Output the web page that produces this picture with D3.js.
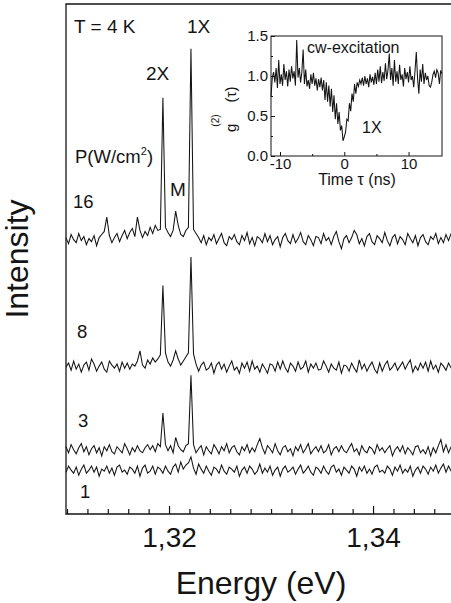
<!DOCTYPE html>
<html><head><meta charset="utf-8">
<script src="https://cdn.jsdelivr.net/npm/d3@7"></script>
<style>
html,body{margin:0;padding:0;background:#fff;}
svg{display:block;font-family:"Liberation Sans",Arial,Helvetica,sans-serif;}
</style></head><body>
<svg id="chart" width="451" height="603"></svg>
<script>
// Photoluminescence spectra at several excitation densities (stacked with offsets)
const energyStart = 1.3099;   // eV, first sample
const energyStep = 0.00025;   // eV per sample
const powerLabels = ["16", "8", "3", "1"];
const spectrumOffsets = [269, 144, 63, 43];

const spec16 = [
  2,-4,5,0,-3,6,-1,3,-5,1,
  -2,4,-6,2,5,8,22,4,-3,2,
  6,-2,4,9,1,7,11,3,22,9,
  2,8,4,12,6,14,9,10,139,12,
  7,3,9,28,14,5,3,9,12,187,
  10,6,2,-3,4,-5,2,-1,5,-4,
  1,6,-3,-6,3,0,5,-2,-5,4,
  -1,7,-4,2,-6,3,1,-3,6,-2,
  4,-5,0,3,-7,2,6,-1,-4,5,
  -3,1,7,-2,-5,4,0,-6,3,2,
  -4,6,-1,2,-5,3,8,-2,-9,1,
  4,-3,2,9,5,-4,1,-6,3,6,
  -2,-5,4,1,-3,7,-1,-6,2,5,
  -4,3,0,-5,6,1,-3,4,-6,2,
  5,-2,-5,3,0,6,-4,2,-3,5,
  -1,6
];
const spec8 = [
  0,4,-3,6,-2,3,-5,2,5,-3,
  8,3,-4,1,5,-2,-5,6,2,-1,
  3,-4,5,-1,4,-2,3,1,6,16,
  2,-1,7,3,9,5,8,12,80,14,
  5,1,7,16,8,2,6,10,14,108,
  13,3,-4,2,5,-3,-1,4,-6,2,
  5,-2,3,-5,1,6,-3,0,-6,4,
  -1,5,-4,6,-2,1,-5,3,-1,-6,
  3,2,-4,5,-2,6,-1,-5,4,1,
  -4,5,-2,0,6,-5,3,-1,4,-3,
  -2,6,1,-5,3,-1,-3,5,-6,2,
  1,-4,4,-1,-5,7,-2,3,-4,1,
  5,-2,-6,4,-4,2,6,-3,0,4,
  -3,1,5,-2,3,7,-5,1,-3,4,
  -1,5,-4,6,-2,2,-5,4,1,-3,
  4,-1
];
const spec3 = [
  3,-3,5,0,-4,2,6,-2,3,-5,
  1,4,-3,2,-6,3,-1,5,-2,-4,
  3,0,-3,6,1,-5,2,-2,4,-1,
  -3,2,5,0,4,-2,6,3,36,5,
  -1,4,-3,12,4,0,-2,4,6,73,
  5,-3,1,4,-5,3,-1,-4,5,1,
  -4,3,-1,6,-3,2,4,-2,-5,3,
  -1,5,-3,2,-2,5,11,2,-4,4,
  1,-3,6,-1,-5,2,4,-2,1,-6,
  3,-1,5,-3,1,6,-4,0,3,-2,
  4,-3,-1,5,-5,1,3,-2,4,-1,
  -3,2,6,-2,1,-5,4,-1,-3,3,
  1,-4,5,-1,2,-3,1,4,-6,0,
  3,-2,4,-4,2,-1,-5,3,4,-3,
  0,-4,3,-6,2,-3,4,10,-2,5,
  -3,3
];
const spec1 = [
  -2,4,0,-3,3,-5,1,5,-3,0,
  4,-2,3,-6,1,-1,4,-3,2,-5,
  3,5,-2,0,-4,3,1,-3,4,-6,
  2,5,-3,-1,4,-4,3,1,-3,4,
  -1,-4,3,6,-2,8,1,5,7,13,
  2,-4,6,1,-3,4,-1,-5,3,1,
  -3,5,-1,-4,3,1,-2,4,-6,0,
  3,-3,4,1,-4,-1,6,-3,2,-2,
  4,-5,0,3,-6,1,4,-2,0,3,
  -4,1,5,-3,0,4,-2,-5,3,1,
  -3,4,-1,-4,3,5,-2,1,-5,3,
  0,-3,4,1,-6,3,-1,4,-3,1,
  -4,3,5,-2,0,-3,4,1,-5,3,
  -1,5,-3,1,-2,4,-6,0,3,-3,
  4,1,-4,3,-1,5,-3,2,6,-2,
  4,-1
];
const spectra = [spec16, spec8, spec3, spec1];

const energyMajorTicks = [1.32, 1.34];
const energyMinorStep = 0.002;

// Second-order correlation of the 1X line under cw excitation
const g2Start = -11.4;   // ns
const g2Step = 0.2;      // ns
const g2Values = [
  0.74,0.98,1.05,0.92,1.1,0.85,1.2,0.9,1.02,0.88,
  1.15,0.95,1.06,0.87,1.08,0.93,1.12,0.97,1.06,0.88,
  1.45,0.98,1.1,0.92,1.05,1.33,0.9,1.08,0.87,0.95,
  0.84,1.02,0.9,1.04,0.88,0.97,0.82,0.96,0.86,0.98,
  0.82,0.95,0.7,0.92,0.68,0.88,0.62,0.84,0.55,0.76,
  0.46,0.66,0.4,0.55,0.32,0.38,0.19,0.24,0.3,0.46,
  0.44,0.66,0.56,0.78,0.68,0.9,0.78,0.92,0.87,0.95,
  0.9,0.98,0.88,1.0,0.9,0.97,0.86,1.02,0.92,0.99,
  0.89,1.04,0.9,1.08,0.93,1.12,0.91,1.05,0.94,1.16,
  0.96,1.08,1.28,0.95,1.1,0.88,1.2,0.93,1.06,0.9,
  1.14,0.95,1.02,0.87,1.1,0.96,1.05,0.92,1.12,0.95,
  1.0,0.86,1.06,1.3,0.97,0.78,1.08,0.93,1.15,0.9,
  1.04,0.95,1.0,0.88,0.86,0.92,1.02,1.06,0.98,1.08,
  1.04,0.9,1.07,1.03
];
const g2YTicks = [0, 0.5, 1.0, 1.5];
const g2YMinorTicks = [0.25, 0.75, 1.25];
const g2XTicks = [-10, 0, 10];
const g2XMinorTicks = [-5, 5];

const svg = d3.select("#chart");
const ink = "#141414";

// ---- main panel ----
const x = d3.scaleLinear().domain([1.3099, 1.3477]).range([66, 451.6]);
const y = d3.scaleLinear().domain([0, 500]).range([514, 4]);

const spectrumLine = d3.line()
  .x((d, i) => x(energyStart + i * energyStep))
  .y(d => y(d));

spectra.forEach((s, k) => {
  svg.append("path")
    .attr("d", spectrumLine(s.map(v => v + spectrumOffsets[k])))
    .attr("fill", "none")
    .attr("stroke", ink)
    .attr("stroke-width", 1.05)
    .attr("stroke-linejoin", "miter");
});

// frame: left, top and bottom edges
const [x0, x1] = x.range();
svg.append("path")
  .attr("d", `M${x1},${y(500)}H${x0}V${y(0)}H${x1}`)
  .attr("fill", "none").attr("stroke", ink).attr("stroke-width", 1.3);

const minorTicks = d3.range(0, 19)
  .map(k => +(1.310 + k * energyMinorStep).toFixed(3))
  .filter(v => !energyMajorTicks.includes(v));

const gMinor = svg.append("g").attr("transform", `translate(0,${y(0)})`)
  .call(d3.axisBottom(x).tickValues(minorTicks).tickSize(-5).tickFormat(""));
const gMajor = svg.append("g").attr("transform", `translate(0,${y(0)})`)
  .call(d3.axisBottom(x).tickValues(energyMajorTicks).tickSize(-8).tickPadding(13)
    .tickFormat(d => d3.format(".2f")(d).replace(".", ",")));
[gMinor, gMajor].forEach(g => {
  g.select(".domain").remove();
  g.selectAll(".tick line").attr("stroke", ink).attr("stroke-width", 1.2);
});
gMajor.selectAll(".tick text")
  .attr("font-size", 28).attr("fill", ink)
  .attr("font-family", '"Liberation Sans",Arial,sans-serif');

svg.append("text").attr("x", 261).attr("y", 594).attr("text-anchor", "middle")
  .attr("font-size", 32).attr("fill", ink).text("Energy (eV)");
svg.append("text").attr("transform", "translate(28,259) rotate(-90)")
  .attr("text-anchor", "middle").attr("font-size", 32).attr("fill", ink).text("Intensity");

// annotations
const note = (tx, ty, str, size) => svg.append("text").attr("x", tx).attr("y", ty)
  .attr("font-size", size).attr("fill", ink).text(str);
note(74, 33, "T = 4 K", 19);
note(187, 33, "1X", 19);
note(146, 80, "2X", 19);
note(170, 196, "M", 19);
const pLab = svg.append("text").attr("x", 75).attr("y", 163).attr("font-size", 18.5).attr("fill", ink);
pLab.append("tspan").text("P(W/cm");
pLab.append("tspan").attr("font-size", 11).attr("dy", -8).text("2");
pLab.append("tspan").attr("dy", 8).text(")");
const labelPos = [[73, 208], [77, 338], [78, 427], [80, 498]];
powerLabels.forEach((p, k) => note(labelPos[k][0], labelPos[k][1], p, 18.5));

// ---- inset: g2(tau) ----
const ix = d3.scaleLinear().domain([-11.4, 15.2]).range([271, 442]);
const iy = d3.scaleLinear().domain([0, 1.5]).range([156, 36]);

svg.append("rect").attr("x", 271).attr("y", 36).attr("width", 171).attr("height", 120)
  .attr("fill", "#fff");

svg.append("path")
  .attr("d", d3.line().x((d, i) => ix(g2Start + i * g2Step)).y(d => iy(d))(g2Values))
  .attr("fill", "none").attr("stroke", ink).attr("stroke-width", 1.05)
  .attr("stroke-linejoin", "miter");

svg.append("rect").attr("x", ix.range()[0]).attr("y", iy.range()[1])
  .attr("width", ix.range()[1] - ix.range()[0]).attr("height", iy.range()[0] - iy.range()[1])
  .attr("fill", "none").attr("stroke", ink).attr("stroke-width", 1);

const iyAxis = svg.append("g").attr("transform", `translate(${ix.range()[0]},0)`)
  .call(d3.axisLeft(iy).tickValues(g2YTicks).tickSize(-4).tickPadding(3).tickFormat(d3.format(".1f")));
const iyMinor = svg.append("g").attr("transform", `translate(${ix.range()[0]},0)`)
  .call(d3.axisLeft(iy).tickValues(g2YMinorTicks).tickSize(-2).tickFormat(""));
const ixAxis = svg.append("g").attr("transform", `translate(0,${iy.range()[0]})`)
  .call(d3.axisBottom(ix).tickValues(g2XTicks).tickSize(-4).tickPadding(2).tickFormat(d3.format("d")));
const ixMinor = svg.append("g").attr("transform", `translate(0,${iy.range()[0]})`)
  .call(d3.axisBottom(ix).tickValues(g2XMinorTicks).tickSize(-2).tickFormat(""));
[iyAxis, iyMinor, ixAxis, ixMinor].forEach(g => {
  g.select(".domain").remove();
  g.selectAll(".tick line").attr("stroke", ink);
  g.selectAll(".tick text").attr("font-size", 15).attr("fill", ink)
    .attr("font-family", '"Liberation Sans",Arial,sans-serif');
});
ixAxis.selectAll(".tick text").text(d => d < 0 ? "-" + Math.abs(d) : d);

svg.append("text").attr("x", 357).attr("y", 185).attr("text-anchor", "middle")
  .attr("font-size", 16).attr("fill", ink).text("Time τ (ns)");
note(307, 53, "cw-excitation", 16);
note(362, 133, "1X", 16);

const g2Lab = svg.append("text").attr("transform", "translate(236,132) rotate(-90)")
  .attr("font-size", 15).attr("fill", ink);
g2Lab.append("tspan").text("g");
g2Lab.append("tspan").attr("font-size", 10).attr("dx", -3).attr("dy", -17).text("(2)");
g2Lab.append("tspan").attr("dx", 12).attr("dy", 17).text("(τ)");
</script>
</body></html>
